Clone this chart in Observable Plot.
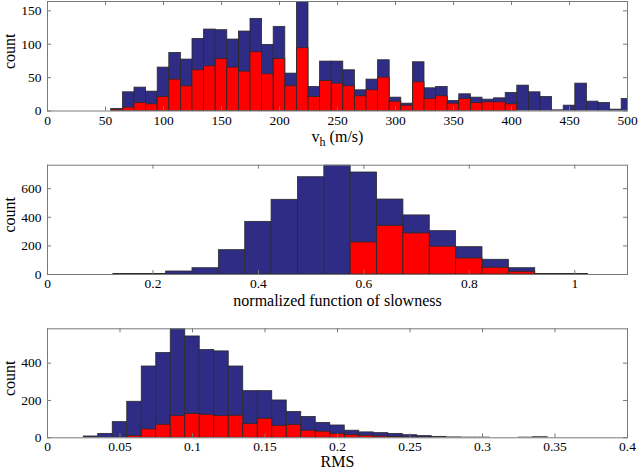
<!DOCTYPE html>
<html><head><meta charset="utf-8">
<script src="https://cdn.jsdelivr.net/npm/d3@7"></script>
<script src="https://cdn.jsdelivr.net/npm/@observablehq/plot@0.6"></script>
<style>
body{margin:0;background:#fff}
#chart svg{display:block}
</style></head><body><div id="chart"></div>
<script>
// ---- Panel 1: v_h (m/s), bin width 10
const vhBinWidth = 10;
const vhCenters = [60,70,80,90,100,110,120,130,140,150,160,170,180,190,200,210,220,230,240,250,260,270,280,290,300,310,320,330,340,350,360,370,380,390,400,410,420,430,440,450,460,470,480,490,500];
const vhTotal   = [3,28,35,29,65,87,77,108,122,121,107,119,138,99,126,56,175,36,74,74,61,31,47,76,20,11,73,34,36,15,25,20,17,19,27,38,28,21,1,8,41,14,12,2,18];
const vhRed     = [2,5,12,10,21,47,37,61,67,78,65,59,88,55,78,37,94,21,45,41,37,22,31,50,14,8,43,18,22,11,18,12,13,13,10,0,0,0,0,0,0,0,0,0,0];
const vhXTicks  = [0,50,100,150,200,250,300,350,400,450,500];
const vhYTicks  = [0,50,100,150];

// ---- Panel 2: normalized function of slowness, bin width 0.05
const nfsBinWidth = 0.05;
const nfsCenters = [0.15,0.2,0.25,0.3,0.35,0.4,0.45,0.5,0.55,0.6,0.65,0.7,0.75,0.8,0.85,0.9,0.95,1.0];
const nfsTotal   = [3,3,21,44,170,368,522,680,764,713,524,413,303,191,103,44,4,3];
const nfsRed     = [0,0,0,0,0,0,0,0,0,224,340,287,194,112,47,19,0,0];
const nfsXTicks  = [0,0.2,0.4,0.6,0.8,1];
const nfsYTicks  = [0,200,400,600];

// ---- Panel 3: RMS, bin width 0.01
const rmsBinWidth = 0.01;
const rmsCenters = [0.03,0.04,0.05,0.06,0.07,0.08,0.09,0.10,0.11,0.12,0.13,0.14,0.15,0.16,0.17,0.18,0.19,0.20,0.21,0.22,0.23,0.24,0.25,0.26,0.27,0.28,0.29,0.30,0.31,0.32,0.33,0.34];
const rmsTotal   = [7,21,84,193,382,454,584,543,470,463,382,250,250,200,138,112,80,66,38,29,25,21,14,9,5,2,1,1,0,0,1,3];
const rmsRed     = [0,0,0,9,45,70,116,127,123,116,118,73,102,64,68,38,33,21,14,11,7,5,2,1,0,0,0,0,0,0,0,0];
const rmsXTicks  = [0,0.05,0.1,0.15,0.2,0.25,0.3,0.35,0.4];
const rmsYTicks  = [0,200,400];

const BLUE = "#2f2c85", RED = "#ff0000", EDGE = "#2a2a2a", AXIS = "#7a7a7a";
const FONT = "'Liberation Serif', 'Times New Roman', serif";

function panel(o) {
  const W = 638, ml = 47, mr = 11;
  const rows = o.centers.map((c, i) => ({x1: c - o.binW / 2, x2: c + o.binW / 2, t: o.total[i], r: o.red[i]}));
  const ph = o.height - o.mt - o.mb, pw = W - ml - mr;
  const ty = 4 * (o.yDomain[1] - o.yDomain[0]) / ph;
  const tx = 4 * (o.xDomain[1] - o.xDomain[0]) / pw;
  const svg = Plot.plot({
    width: W, height: o.height,
    marginLeft: ml, marginRight: mr, marginTop: o.mt, marginBottom: o.mb,
    style: {fontFamily: FONT, fontSize: "14px", color: "#000", background: "#fff", overflow: "visible"},
    x: {domain: o.xDomain},
    y: {domain: o.yDomain},
    marks: [
      Plot.rectY(rows.filter(d => d.t > 0), {x1: "x1", x2: "x2", y1: 0, y2: "t", fill: BLUE, stroke: EDGE, strokeWidth: 0.8, clip: true}),
      Plot.rectY(rows.filter(d => d.r > 0), {x1: "x1", x2: "x2", y1: 0, y2: "r", fill: RED, stroke: EDGE, strokeWidth: 0.8, clip: true}),
      Plot.ruleX(o.xTicks, {x: d => d, y1: o.yDomain[0], y2: o.yDomain[0] + ty, stroke: AXIS}),
      Plot.ruleX(o.xTicks, {x: d => d, y1: o.yDomain[1] - ty, y2: o.yDomain[1], stroke: AXIS}),
      Plot.ruleY(o.yTicks, {y: d => d, x1: o.xDomain[0], x2: o.xDomain[0] + tx, stroke: AXIS}),
      Plot.ruleY(o.yTicks, {y: d => d, x1: o.xDomain[1] - tx, x2: o.xDomain[1], stroke: AXIS}),
      Plot.frame({stroke: AXIS}),
      Plot.axisX(o.xTicks, {tickSize: 0, tickPadding: 4, tickFormat: d => String(d), label: null, fontSize: 13.5}),
      Plot.axisY(o.yTicks, {tickSize: 0, tickPadding: 6, tickFormat: d => String(d), label: null, fontSize: 13.5}),
      Plot.text(["count"], {frameAnchor: "left", dx: -38, dy: -5, rotate: -90, textAnchor: "middle", lineAnchor: "middle", fontSize: 16}),
      Plot.text([o.xlabel], {frameAnchor: "bottom", dy: o.xlabelDy, textAnchor: "middle", lineAnchor: "middle", fontSize: 16})
    ]
  });
  return svg;
}

const chart = document.getElementById("chart");

const p1 = panel({centers: vhCenters, total: vhTotal, red: vhRed, binW: vhBinWidth,
  xDomain: [0, 500], yDomain: [0, 164], xTicks: vhXTicks, yTicks: vhYTicks,
  xlabel: "vh (m/s)", xlabelDy: 25.5, height: 150, mt: 1, mb: 39.5});
chart.appendChild(p1);
// subscript h in v_h
d3.select(p1).selectAll("text").filter(function() { return this.textContent === "vh (m/s)"; })
  .each(function() {
    const t = d3.select(this);
    t.text(null);
    t.append("tspan").text("v");
    t.append("tspan").attr("dy", 4).attr("font-size", 12).text("h");
    t.append("tspan").attr("dy", -4).text(" (m/s)");
  });

chart.appendChild(panel({centers: nfsCenters, total: nfsTotal, red: nfsRed, binW: nfsBinWidth,
  xDomain: [0, 1.1], yDomain: [0, 764], xTicks: nfsXTicks, yTicks: nfsYTicks,
  xlabel: "normalized function of slowness", xlabelDy: 26.5, height: 160, mt: 14.7, mb: 36}));

chart.appendChild(panel({centers: rmsCenters, total: rmsTotal, red: rmsRed, binW: rmsBinWidth,
  xDomain: [0, 0.4], yDomain: [0, 584], xTicks: rmsXTicks, yTicks: rmsYTicks,
  xlabel: "RMS", xlabelDy: 24.5, height: 160, mt: 18.3, mb: 32.7}));
</script>
</body></html>
